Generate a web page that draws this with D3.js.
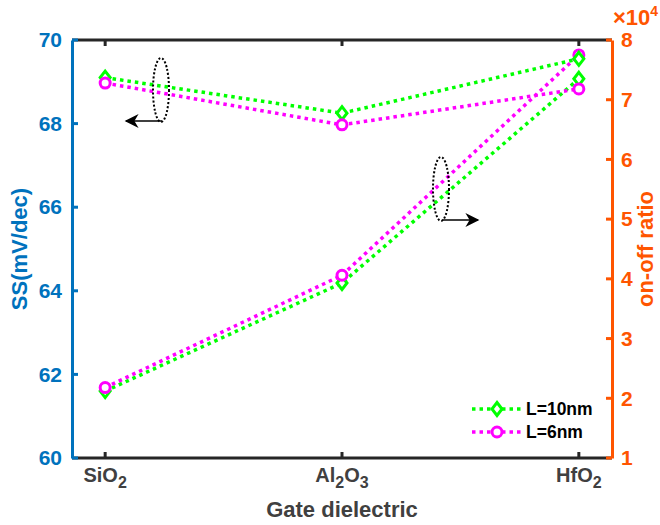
<!DOCTYPE html>
<html>
<head>
<meta charset="utf-8">
<script src="https://cdn.jsdelivr.net/npm/d3@7"></script>
<style>
body { margin: 0; background: #fff; }
text { font-family: "Liberation Sans", Arial, sans-serif; font-weight: bold; }
</style>
</head>
<body>
<script>
// data
var dielectrics = ["SiO2", "Al2O3", "HfO2"];
var ss10 = [69.1, 68.25, 69.55];     // L=10nm, left axis
var ss6 = [68.97, 67.97, 68.83];     // L=6nm, left axis
var ratio10 = [2.12, 3.93, 7.35];    // L=10nm, right axis (x10^4)
var ratio6 = [2.18, 4.06, 7.75];     // L=6nm, right axis (x10^4)
var leftTicks = [60, 62, 64, 66, 68, 70];
var rightTicks = [1, 2, 3, 4, 5, 6, 7, 8];

var width = 660, height = 525;
var m = {top: 40, right: 48, bottom: 67, left: 72};
var blue = "#0072BD", orange = "#FF5500", green = "#00FF00", magenta = "#FF00FF", grey = "#404040";

var svg = d3.select("body").append("svg").attr("width", width).attr("height", height);

var x = d3.scalePoint().domain(dielectrics).range([m.left, width - m.right]).padding(0.14);
var yL = d3.scaleLinear().domain([60, 70]).range([height - m.bottom, m.top]);
var yR = d3.scaleLinear().domain([1, 8]).range([height - m.bottom, m.top]);

// box top / bottom
svg.append("line").attr("x1", m.left).attr("x2", width - m.right).attr("y1", m.top).attr("y2", m.top)
    .attr("stroke", "#262626").attr("stroke-width", 3);
svg.append("line").attr("x1", m.left).attr("x2", width - m.right).attr("y1", yL(60)).attr("y2", yL(60))
    .attr("stroke", "#262626").attr("stroke-width", 3);

// x ticks (inward, top and bottom)
dielectrics.forEach(function(d) {
    svg.append("line").attr("x1", x(d)).attr("x2", x(d)).attr("y1", yL(60)).attr("y2", yL(60) - 6)
        .attr("stroke", "#262626").attr("stroke-width", 3);
    svg.append("line").attr("x1", x(d)).attr("x2", x(d)).attr("y1", m.top).attr("y2", m.top + 6)
        .attr("stroke", "#262626").attr("stroke-width", 3);
});

// x tick labels with subscripts
var subs = {"SiO2": [["SiO", ""], ["2", "sub"]], "Al2O3": [["Al", ""], ["2", "sub"], ["O", ""], ["3", "sub"]], "HfO2": [["HfO", ""], ["2", "sub"]]};
dielectrics.forEach(function(d) {
    var t = svg.append("text").attr("x", x(d)).attr("y", 482).attr("text-anchor", "middle")
        .attr("font-size", 20).attr("fill", grey);
    subs[d].forEach(function(p, i) {
        var s = t.append("tspan").text(p[0]);
        if (p[1] == "sub") s.attr("font-size", 16).attr("dy", 6);
        else if (i > 0) s.attr("dy", -6);
    });
});
svg.append("text").attr("x", x("Al2O3")).attr("y", 517).attr("text-anchor", "middle")
    .attr("font-size", 22).attr("fill", grey).text("Gate dielectric");

// left axis
var gL = svg.append("g").attr("transform", "translate(" + m.left + ",0)")
    .call(d3.axisLeft(yL).tickValues(leftTicks).tickSize(0).tickPadding(10));
gL.select(".domain").attr("stroke", blue).attr("stroke-width", 3);
gL.selectAll("text").attr("fill", blue).attr("font-size", 21).attr("font-family", null);
gL.attr("font-family", null).attr("font-size", null);
leftTicks.forEach(function(v) {
    svg.append("line").attr("x1", m.left).attr("x2", m.left + 6).attr("y1", yL(v)).attr("y2", yL(v))
        .attr("stroke", blue).attr("stroke-width", 3);
});
svg.append("text").attr("transform", "translate(27," + yL(65) + ") rotate(-90)")
    .attr("text-anchor", "middle").attr("font-size", 22).attr("fill", blue).text("SS(mV/dec)");

// right axis
var gR = svg.append("g").attr("transform", "translate(" + (width - m.right) + ",0)")
    .call(d3.axisRight(yR).tickValues(rightTicks).tickFormat(d3.format("d")).tickSize(0).tickPadding(9));
gR.select(".domain").attr("stroke", orange).attr("stroke-width", 3);
gR.selectAll("text").attr("fill", orange).attr("font-size", 21).attr("font-family", null);
gR.attr("font-family", null).attr("font-size", null);
rightTicks.forEach(function(v) {
    svg.append("line").attr("x1", width - m.right).attr("x2", width - m.right - 6).attr("y1", yR(v)).attr("y2", yR(v))
        .attr("stroke", orange).attr("stroke-width", 3);
});
svg.append("text").attr("transform", "translate(653," + yR(4.5) + ") rotate(-90)")
    .attr("text-anchor", "middle").attr("font-size", 22).attr("fill", orange).text("on-off ratio");
var ex = svg.append("text").attr("x", 613).attr("y", 25).attr("font-size", 22).attr("fill", orange)
    .attr("font-weight", "normal");
ex.append("tspan").text("\u00d7");
ex.append("tspan").attr("font-weight", "bold").text("10");
ex.append("tspan").attr("font-size", 14).attr("dy", -9).attr("font-weight", "bold").text("4");

// series
function lineOf(vals, y) {
    return d3.line().x(function(d, i) { return x(dielectrics[i]); }).y(function(d) { return y(d); })(vals);
}
var series = [
    {vals: ratio10, y: yR, color: green, mark: "diamond"},
    {vals: ratio6, y: yR, color: magenta, mark: "circle"},
    {vals: ss10, y: yL, color: green, mark: "diamond"},
    {vals: ss6, y: yL, color: magenta, mark: "circle"}
];
series.forEach(function(s) {
    svg.append("path").attr("d", lineOf(s.vals, s.y)).attr("fill", "none")
        .attr("stroke", s.color).attr("stroke-width", 3.5).attr("stroke-dasharray", "3.5,4");
});
function marker(g, cx, cy, kind, color) {
    if (kind == "circle") {
        g.append("circle").attr("cx", cx).attr("cy", cy).attr("r", 5)
            .attr("fill", "#fff").attr("stroke", color).attr("stroke-width", 3);
    } else {
        g.append("path").attr("d", "M0,-6.5L5,0L0,6.5L-5,0Z")
            .attr("transform", "translate(" + cx + "," + cy + ")")
            .attr("fill", "#fff").attr("stroke", color).attr("stroke-width", 3);
    }
}
series.forEach(function(s) {
    s.vals.forEach(function(v, i) { marker(svg, x(dielectrics[i]), s.y(v), s.mark, s.color); });
});

// ellipse + arrow annotations
var defs = svg.append("defs");
defs.append("marker").attr("id", "ah").attr("viewBox", "0 0 10 10").attr("refX", 9).attr("refY", 5)
    .attr("markerWidth", 16).attr("markerHeight", 14).attr("markerUnits", "userSpaceOnUse").attr("orient", "auto")
    .append("path").attr("d", "M0,0 L10,5 L0,10 L3,5 Z").attr("fill", "#000");
function annot(cx, cy, dir) {
    svg.append("ellipse").attr("cx", cx).attr("cy", cy).attr("rx", 8).attr("ry", 32)
        .attr("fill", "none").attr("stroke", "#000").attr("stroke-width", 2).attr("stroke-dasharray", "2,2");
    svg.append("line").attr("x1", cx + 1).attr("y1", cy + 31).attr("x2", cx + 1 + dir * 36).attr("y2", cy + 31)
        .attr("stroke", "#000").attr("stroke-width", 1.5).attr("marker-end", "url(#ah)");
}
annot(161, 90, -1);
annot(441, 189, 1);

// legend
var legend = [["L=10nm", green, "diamond"], ["L=6nm", magenta, "circle"]];
legend.forEach(function(l, i) {
    var ly = 409 + i * 23;
    svg.append("line").attr("x1", 472).attr("x2", 522).attr("y1", ly).attr("y2", ly)
        .attr("stroke", l[1]).attr("stroke-width", 3.5).attr("stroke-dasharray", "3.5,4");
    marker(svg, 497, ly, l[2], l[1]);
    svg.append("text").attr("x", 526).attr("y", ly + 6).attr("font-size", 17.5).attr("fill", "#000").text(l[0]);
});
</script>
</body>
</html>
